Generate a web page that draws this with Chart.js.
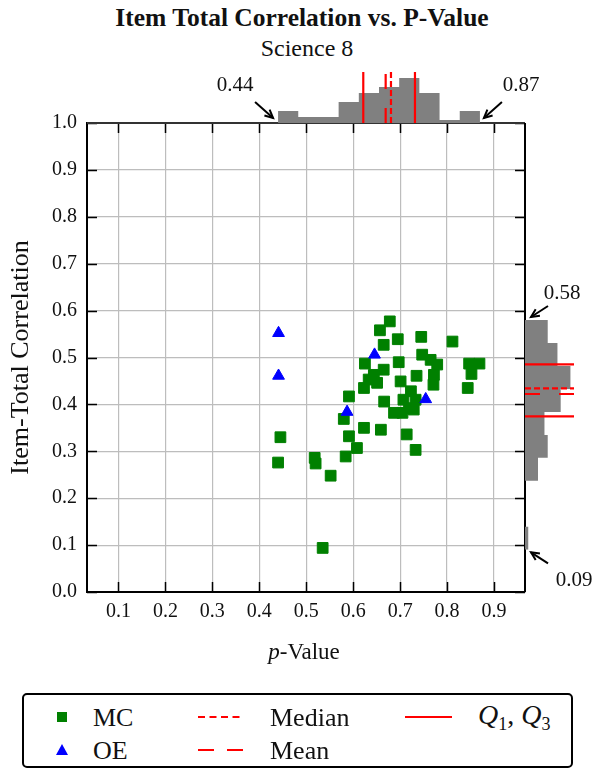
<!DOCTYPE html>
<html><head><meta charset="utf-8">
<script src="https://cdn.jsdelivr.net/npm/chart.js@4.4.0/dist/chart.umd.min.js"></script>
<style>
body{margin:0;background:#fff;}
#wrap{position:relative;width:605px;height:780px;overflow:hidden;font-family:'Liberation Serif','Times New Roman',serif;color:#111;}
.t{position:absolute;white-space:nowrap;transform:translate(-50%,-50%);line-height:1;}
.l{position:absolute;white-space:nowrap;transform:translate(0,-50%);line-height:1;font-size:26px;}
canvas{position:absolute;}
#legend{position:absolute;left:22px;top:693px;width:547px;height:71px;border:2px solid #000;border-radius:5px;}
</style></head>
<body>
<div id="wrap">
  <div class="t" id="title" style="left:302px;top:18px;font-size:25.5px;font-weight:bold;">Item Total Correlation vs. P-Value</div>
  <div class="t" id="subtitle" style="left:307px;top:48px;font-size:24px;">Science 8</div>
  <canvas id="mainChart" width="605" height="680" style="left:0;top:0;width:605px;height:680px;"></canvas>
  <canvas id="topHist" width="438" height="51" style="left:87px;top:72px;width:438px;height:51px;"></canvas>
  <canvas id="rightHist" width="49" height="469" style="left:525px;top:123px;width:49px;height:469px;"></canvas>
  <div class="t" id="xlabel" style="left:304px;top:651px;font-size:23px;"><i>p</i>-Value</div>
  <div class="t" id="lblPmin" style="left:235px;top:84px;font-size:21px;"></div>
  <div class="t" id="lblPmax" style="left:521px;top:84px;font-size:21px;"></div>
  <div class="t" id="lblRmax" style="left:562px;top:292px;font-size:21px;"></div>
  <div class="t" id="lblRmin" style="left:574px;top:579px;font-size:21px;"></div>
  <div id="legend"></div>
  <div style="position:absolute;left:57px;top:712px;width:10px;height:10px;background:#008000;"></div>
  <div class="l" style="left:93px;top:718px;">MC</div>
  <div style="position:absolute;left:56px;top:744px;width:0;height:0;border-left:6px solid transparent;border-right:6px solid transparent;border-bottom:11px solid #0000ff;"></div>
  <div class="l" style="left:93px;top:751px;">OE</div>
  <svg style="position:absolute;left:198px;top:715px;" width="46" height="4"><line x1="0" y1="2" x2="46" y2="2" stroke="#ff0000" stroke-width="2" stroke-dasharray="7,4.5"/></svg>
  <div class="l" style="left:270px;top:718px;">Median</div>
  <svg style="position:absolute;left:198px;top:748px;" width="46" height="4"><line x1="0" y1="2" x2="46" y2="2" stroke="#ff0000" stroke-width="2" stroke-dasharray="16,13"/></svg>
  <div class="l" style="left:270px;top:751px;">Mean</div>
  <svg style="position:absolute;left:405px;top:715px;" width="47" height="4"><line x1="0" y1="2" x2="47" y2="2" stroke="#ff0000" stroke-width="2"/></svg>
  <div class="l" style="left:478px;top:717px;font-size:28px;"><i>Q</i><sub style="font-size:18px;">1</sub>, <i>Q</i><sub style="font-size:18px;">3</sub></div>
</div>
<script>
// ---- data ----
const mcPValue = [0.678,0.657,0.695,0.745,0.8115,0.665,0.625,0.697,0.747,0.765,0.779,0.735,0.772,0.771,0.665,0.644,0.651,0.623,0.633,0.847,0.869,0.852,0.844,0.591,0.580,0.701,0.666,0.723,0.707,0.733,0.719,0.687,0.705,0.729,0.623,0.659,0.591,0.608,0.714,0.733,0.584,0.445,0.440,0.518,0.520,0.552,0.535];
const mcCorr   = [0.577,0.558,0.539,0.544,0.534,0.527,0.487,0.490,0.506,0.495,0.485,0.461,0.463,0.442,0.474,0.463,0.446,0.435,0.453,0.487,0.487,0.465,0.435,0.417,0.369,0.449,0.406,0.428,0.410,0.410,0.392,0.382,0.382,0.389,0.350,0.346,0.332,0.307,0.336,0.303,0.289,0.330,0.276,0.286,0.274,0.248,0.094];
const oePValue = [0.441,0.441,0.6455,0.587,0.7545];
const oeCorr   = [0.552,0.461,0.506,0.384,0.411];

const pHistEdges  = [0.44,0.483,0.526,0.569,0.612,0.655,0.698,0.741,0.784,0.827,0.87];
const pHistCounts = [4,2,2,7,10,12,15,10,1,4];
const rHistEdges  = [0.09,0.139,0.188,0.237,0.286,0.335,0.384,0.433,0.482,0.531,0.58];
const rHistCounts = [1,0,0,4,7,6,11,14,10,7];

const pQuartiles = [0.6215,0.7316];
const pMedian = 0.6805;
const pMean = 0.6692;
const rQuartiles = [0.3746,0.4855];
const rMedian = 0.4343;
const rMean = 0.4222;

const pRange = [0.44,0.87];
const rRange = [0.09,0.58];

const xTickValues = [0.1,0.2,0.3,0.4,0.5,0.6,0.7,0.8,0.9];
const yTickValues = [0.0,0.1,0.2,0.3,0.4,0.5,0.6,0.7,0.8,0.9,1.0];
const xLimits = [0.033,0.966];
const yLimits = [0,1];

// ---- labels ----
document.getElementById('lblPmin').textContent = pRange[0].toFixed(2);
document.getElementById('lblPmax').textContent = pRange[1].toFixed(2);
document.getElementById('lblRmin').textContent = rRange[0].toFixed(2);
document.getElementById('lblRmax').textContent = rRange[1].toFixed(2);

const SERIF = "'Liberation Serif','Times New Roman',serif";
const RED = '#ff0000';
const MEDIAN_DASH = [6,3];
const MEAN_DASH = [15,19];

function arrow(ctx, x1, y1, x2, y2) {
  ctx.beginPath(); ctx.moveTo(x1, y1); ctx.lineTo(x2, y2); ctx.stroke();
  const a = Math.atan2(y2 - y1, x2 - x1), L = 9, w = 0.45;
  ctx.beginPath();
  ctx.moveTo(x2 - L * Math.cos(a - w), y2 - L * Math.sin(a - w));
  ctx.lineTo(x2, y2);
  ctx.lineTo(x2 - L * Math.cos(a + w), y2 - L * Math.sin(a + w));
  ctx.stroke();
}

const framePlugin = {
  id: 'frame',
  afterDraw(chart) {
    const {ctx, chartArea: a, scales: {x, y}} = chart;
    ctx.save();
    ctx.strokeStyle = '#000';
    ctx.lineWidth = 1.5;
    const T = 10;
    xTickValues.forEach(v => {
      const px = Math.round(x.getPixelForValue(v)) + 0.5;
      ctx.beginPath();
      ctx.moveTo(px, a.bottom); ctx.lineTo(px, a.bottom - T);
      ctx.moveTo(px, a.top); ctx.lineTo(px, a.top + T);
      ctx.stroke();
    });
    yTickValues.forEach(v => {
      const py = Math.round(y.getPixelForValue(v)) + 0.5;
      ctx.beginPath();
      ctx.moveTo(a.left, py); ctx.lineTo(a.left + T, py);
      ctx.moveTo(a.right, py); ctx.lineTo(a.right - T, py);
      ctx.stroke();
    });
    ctx.lineWidth = 2;
    ctx.strokeStyle = '#333';
    ctx.beginPath(); ctx.moveTo(a.left, a.top); ctx.lineTo(a.right, a.top); ctx.stroke();
    ctx.strokeStyle = '#000';
    ctx.beginPath(); ctx.moveTo(a.right, a.top); ctx.lineTo(a.right, a.bottom); ctx.stroke();
    ctx.lineWidth = 2;
    const p0 = x.getPixelForValue(pRange[0]) - 5, p1 = x.getPixelForValue(pRange[1]) + 4;
    arrow(ctx, p0 - 18, a.top - 21, p0, a.top - 5);
    arrow(ctx, p1 + 18, a.top - 21, p1, a.top - 5);
    const r1 = y.getPixelForValue(rRange[1]) - 3, r0 = y.getPixelForValue(rRange[0]) + 2.5;
    arrow(ctx, a.right + 23, r1 - 11, a.right + 6, r1);
    arrow(ctx, a.right + 23, r0 + 11, a.right + 6, r0);
    ctx.restore();
  }
};

new Chart(document.getElementById('mainChart'), {
  type: 'scatter',
  data: {
    datasets: [
      {
        label: 'OE',
        data: oePValue.map((v, i) => ({x: v, y: oeCorr[i]})),
        pointStyle: 'triangle',
        pointRadius: 6.8,
        backgroundColor: '#0000ff',
        borderColor: '#0000ff',
        borderWidth: 1,
        order: 0
      },
      {
        label: 'MC',
        data: mcPValue.map((v, i) => ({x: v, y: mcCorr[i]})),
        pointStyle: 'rect',
        pointRadius: 7.6,
        backgroundColor: '#008000',
        borderColor: '#008000',
        borderWidth: 1,
        order: 1
      }
    ]
  },
  options: {
    responsive: false,
    animation: false,
    events: [],
    layout: {padding: {left: 0, top: 123, right: 80, bottom: 0}},
    plugins: {legend: {display: false}, tooltip: {enabled: false}},
    scales: {
      x: {
        type: 'linear',
        min: xLimits[0], max: xLimits[1],
        afterFit(s) { s.height = 88; },
        grid: {color: '#bdbdbd', lineWidth: 1.2, drawTicks: false},
        border: {display: true, color: '#000', width: 2},
        ticks: {
          stepSize: 0.1, includeBounds: false, padding: 8,
          color: '#111', font: {family: SERIF, size: 20},
          callback: v => Number(v).toFixed(1)
        }
      },
      y: {
        type: 'linear',
        min: yLimits[0], max: yLimits[1],
        afterFit(s) { s.width = 87; },
        grid: {color: '#bdbdbd', lineWidth: 1.2, drawTicks: false},
        border: {display: true, color: '#000', width: 2},
        ticks: {
          stepSize: 0.1, padding: 10,
          color: '#111', font: {family: SERIF, size: 20},
          callback: v => Number(v).toFixed(1)
        },
        title: {
          display: true, text: 'Item-Total Correlation',
          color: '#111', font: {family: SERIF, size: 26},
          padding: {top: 6, bottom: 0}
        }
      }
    }
  },
  plugins: [framePlugin]
});

// ---- top histogram (p-value) ----
function stepPoints(edges, counts) {
  const pts = [{e: edges[0], c: 0}];
  counts.forEach((c, i) => { pts.push({e: edges[i], c}); pts.push({e: edges[i + 1], c}); });
  pts.push({e: edges[edges.length - 1], c: 0});
  return pts;
}
const TOP_MAX = 17, RIGHT_MAX = 15.1;
const vline = (v, dash, width) => ({
  type: 'line', data: [{x: v, y: 0}, {x: v, y: TOP_MAX}],
  borderColor: RED, borderWidth: width, borderDash: dash, pointRadius: 0, fill: false, clip: false
});
new Chart(document.getElementById('topHist'), {
  type: 'line',
  data: {
    datasets: [
      vline(pQuartiles[0], [], 2.2),
      vline(pQuartiles[1], [], 2.2),
      vline(pMedian, MEDIAN_DASH, 2.2),
      vline(pMean, MEAN_DASH, 2.2),
      {
        data: stepPoints(pHistEdges, pHistCounts).map(p => ({x: p.e, y: p.c})),
        backgroundColor: '#808080', borderColor: '#808080', borderWidth: 0,
        pointRadius: 0, fill: 'origin', tension: 0
      }
    ]
  },
  options: {
    responsive: false, animation: false, events: [],
    layout: {padding: 0},
    plugins: {legend: {display: false}, tooltip: {enabled: false}},
    scales: {
      x: {type: 'linear', display: false, min: xLimits[0], max: xLimits[1]},
      y: {type: 'linear', display: false, min: 0, max: TOP_MAX}
    }
  }
});

// ---- right histogram (item-total correlation) ----
const hline = (v, dash, width) => ({
  data: [{x: 0, y: v}, {x: RIGHT_MAX, y: v}],
  borderColor: RED, borderWidth: width, borderDash: dash, pointRadius: 0, fill: false, clip: false
});
new Chart(document.getElementById('rightHist'), {
  type: 'line',
  data: {
    datasets: [
      hline(rQuartiles[0], [], 2.2),
      hline(rQuartiles[1], [], 2.2),
      hline(rMedian, MEDIAN_DASH, 2.2),
      hline(rMean, MEAN_DASH, 2.2),
      {
        data: stepPoints(rHistEdges, rHistCounts).map(p => ({x: p.c, y: p.e})),
        backgroundColor: '#808080', borderColor: '#808080', borderWidth: 0,
        pointRadius: 0, fill: 'origin', tension: 0
      }
    ]
  },
  options: {
    indexAxis: 'y',
    responsive: false, animation: false, events: [],
    layout: {padding: 0},
    plugins: {legend: {display: false}, tooltip: {enabled: false}},
    scales: {
      x: {type: 'linear', display: false, min: 0, max: RIGHT_MAX},
      y: {type: 'linear', display: false, min: yLimits[0], max: yLimits[1]}
    }
  }
});
</script>
</body></html>
